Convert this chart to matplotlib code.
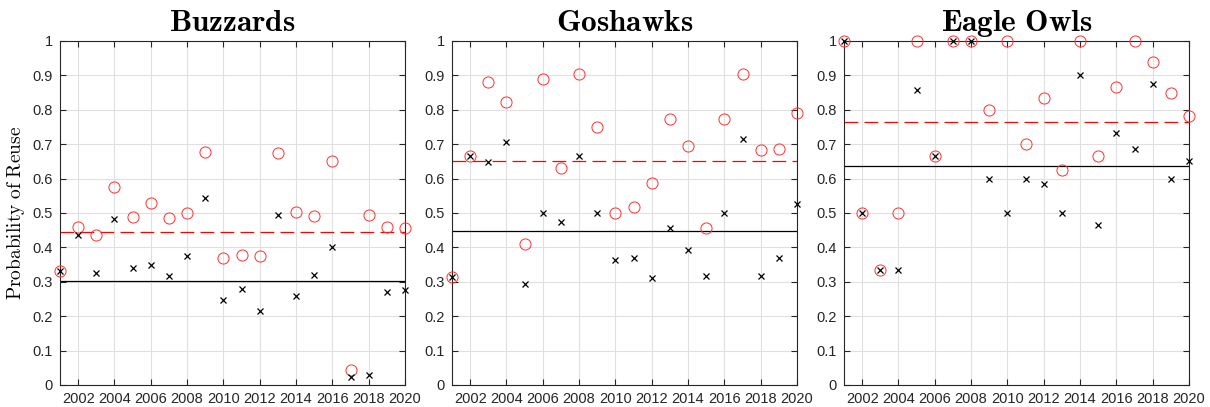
import numpy as np
import matplotlib
matplotlib.use('Agg')
import matplotlib.pyplot as plt
from matplotlib.ticker import FuncFormatter

plt.rcParams['mathtext.fontset'] = 'cm'
plt.rcParams['font.family'] = ['Liberation Sans', 'DejaVu Sans']

years = np.arange(2001, 2021)

# Buzzards
buz_black = [0.330, 0.435, 0.326, 0.484, 0.339, 0.349, 0.317, 0.376, 0.544, 0.246,
             0.278, 0.215, 0.495, 0.259, 0.321, 0.401, 0.022, 0.028, 0.270, 0.276]
buz_red = [0.330, 0.460, 0.435, 0.577, 0.487, 0.528, 0.485, 0.500, 0.676, 0.369,
           0.378, 0.375, 0.673, 0.504, 0.490, 0.650, 0.045, 0.494, 0.458, 0.456]
buz_mean_black = 0.301
buz_mean_red = 0.446

# Goshawks
gos_black = [0.315, 0.667, 0.647, 0.706, 0.293, 0.500, 0.473, 0.667, 0.500, 0.363,
             0.370, 0.310, 0.455, 0.391, 0.318, 0.500, 0.715, 0.318, 0.368, 0.526]
gos_red = [0.315, 0.667, 0.882, 0.824, 0.411, 0.889, 0.632, 0.905, 0.751, 0.500,
           0.517, 0.587, 0.773, 0.695, 0.455, 0.773, 0.905, 0.682, 0.685, 0.790]
gos_mean_black = 0.448
gos_mean_red = 0.650

# Eagle Owls
owl_black = [1.000, 0.500, 0.333, 0.333, 0.857, 0.667, 1.000, 1.000, 0.600, 0.500,
             0.600, 0.585, 0.500, 0.900, 0.466, 0.734, 0.685, 0.876, 0.600, 0.652]
owl_red = [1.000, 0.500, 0.333, 0.500, 1.000, 0.667, 1.000, 1.000, 0.800, 1.000,
           0.700, 0.834, 0.626, 1.000, 0.667, 0.867, 1.000, 0.938, 0.850, 0.783]
owl_mean_black = 0.638
owl_mean_red = 0.765

titles = ['Buzzards', 'Goshawks', 'Eagle Owls']
blacks = [buz_black, gos_black, owl_black]
reds = [buz_red, gos_red, owl_red]
mean_blacks = [buz_mean_black, gos_mean_black, owl_mean_black]
mean_reds = [buz_mean_red, gos_mean_red, owl_mean_red]

fig = plt.figure(figsize=(12.1, 4.07), dpi=100)
lefts = [60/1210, 452/1210, 844/1210]

for i in range(3):
    ax = fig.add_axes([lefts[i], 1-385/407, 345/1210, 344/407])
    ax.grid(True, color='#e0e0e0', linewidth=0.8, zorder=0)
    ax.axhline(mean_reds[i], color='#ff0000', linestyle=(0, (11, 5)), linewidth=0.9, zorder=2)
    ax.axhline(mean_blacks[i], color='black', linewidth=0.9, zorder=2)
    ax.plot(years, reds[i], 'o', markersize=8, markerfacecolor='none',
            markeredgecolor='#ff3030', markeredgewidth=0.7, clip_on=False, zorder=3)
    ax.plot(years, blacks[i], 'x', markersize=5, color='black',
            markeredgewidth=0.9, clip_on=False, zorder=4)
    ax.set_xlim(2001, 2020)
    ax.set_ylim(0, 1)
    ax.set_xticks(np.arange(2002, 2021, 2))
    ax.set_yticks(np.arange(0, 1.01, 0.1))
    ax.yaxis.set_major_formatter(FuncFormatter(lambda v, p: '%g' % round(v, 1)))
    ax.tick_params(direction='in', top=True, right=True, length=4, width=0.8,
                   labelsize=10.5, colors='#262626', pad=5)
    for s in ax.spines.values():
        s.set_color('#262626')
        s.set_linewidth(0.8)
    ax.set_title(r'$\mathbf{' + titles[i].replace(' ', r'\ ') + '}$', fontsize=22.5, pad=7)
    if i == 0:
        ax.set_ylabel(r'$\mathrm{Probability\ of\ Reuse}$', fontsize=14, labelpad=4)

fig.savefig('out.png', dpi=100)
